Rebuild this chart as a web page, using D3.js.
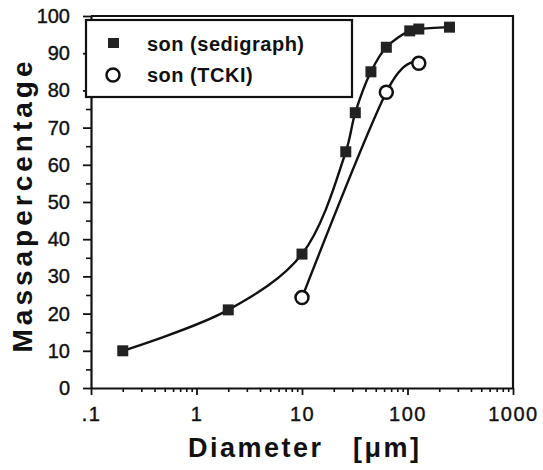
<!DOCTYPE html>
<html>
<head>
<meta charset="utf-8">
<script src="https://cdnjs.cloudflare.com/ajax/libs/d3/7.8.5/d3.min.js"></script>
<style>
    body { margin: 0; background: #fff; }
    svg { font-family: "Liberation Sans", Arial, sans-serif; }
    .axis path, .axis line { stroke: #111; }
    .axis text { fill: #111; font-size: 20px; stroke: #111; stroke-width: 0.4px; }
</style>
</head>
<body>
<svg id="chart" width="543" height="470"></svg>
<script>
    // sedigraph series (filled squares)
    var sediDiameter = [0.2, 2, 10, 26, 32, 45, 63, 105, 128, 250];
    var sediMass = [10, 21, 36, 63.5, 74, 85, 91.6, 96, 96.5, 97];

    // TCKI series (open circles)
    var tckiDiameter = [10, 63, 128];
    var tckiMass = [24.3, 79.5, 87.3];

    var xTickValues = [0.1, 1, 10, 100, 1000];
    var xTickLabels = [".1", "1", "10", "100", "1000"];
    var yTickValues = [0, 10, 20, 30, 40, 50, 60, 70, 80, 90, 100];

    var legendLabels = ["son (sedigraph)", "son (TCKI)"];

    var svg = d3.select("#chart");

    var x = d3.scaleLog()
        .domain([0.1, 1000])
        .range([91, 513]);

    var y = d3.scaleLinear()
        .domain([0, 100])
        .range([388, 16]);

    // minor ticks
    var xMinor = [];
    for (var dec = 0.1; dec < 1000; dec *= 10) {
        for (var k = 2; k <= 9; k++) xMinor.push(dec * k);
    }
    var yMinor = d3.range(5, 100, 10);

    svg.append("g")
        .attr("class", "axis")
        .attr("transform", "translate(0," + y(0) + ")")
        .call(d3.axisBottom(x).tickValues(xMinor).tickSize(4).tickSizeOuter(0).tickFormat(""))
        .call(function(g){ g.select(".domain").remove(); g.selectAll("line").attr("stroke-width", 1.6); });

    svg.append("g")
        .attr("class", "axis")
        .attr("transform", "translate(" + x(0.1) + ",0)")
        .call(d3.axisLeft(y).tickValues(yMinor).tickSize(5).tickSizeOuter(0).tickFormat(""))
        .call(function(g){ g.select(".domain").remove(); g.selectAll("line").attr("stroke-width", 1.6); });

    // x axis
    svg.append("g")
        .attr("class", "axis")
        .attr("transform", "translate(0," + y(0) + ")")
        .call(d3.axisBottom(x)
            .tickValues(xTickValues)
            .tickSize(7)
            .tickSizeOuter(0)
            .tickPadding(12)
            .tickFormat(function(d, i){ return xTickLabels[i]; }))
        .call(function(g){
            g.select(".domain").attr("stroke-width", 2.2);
            g.selectAll("line").attr("stroke-width", 1.8);
            g.selectAll("text").style("letter-spacing", "1.5px");
        });

    // y axis
    svg.append("g")
        .attr("class", "axis")
        .attr("transform", "translate(" + x(0.1) + ",0)")
        .call(d3.axisLeft(y)
            .tickValues(yTickValues)
            .tickSize(8)
            .tickSizeOuter(0)
            .tickPadding(13))
        .call(function(g){
            g.select(".domain").attr("stroke-width", 2.2);
            g.selectAll("line").attr("stroke-width", 1.8);
        });

    // frame top and right
    svg.append("path")
        .attr("d", "M" + x(0.1) + "," + y(100) + "H" + x(1000) + "V" + y(0))
        .attr("fill", "none")
        .attr("stroke", "#111")
        .attr("stroke-width", 2.2);

    // curves
    var sediData = sediDiameter.map(function(d, i){ return [d, sediMass[i]]; });
    var tckiData = tckiDiameter.map(function(d, i){ return [d, tckiMass[i]]; });

    var line = d3.line()
        .x(function(d){ return x(d[0]); })
        .y(function(d){ return y(d[1]); });

    svg.append("path")
        .datum(sediData)
        .attr("d", line.curve(d3.curveCatmullRom.alpha(0.5)))
        .attr("fill", "none")
        .attr("stroke", "#111")
        .attr("stroke-width", 2.4);

    svg.append("path")
        .datum(tckiData)
        .attr("d", line.curve(d3.curveCatmullRom.alpha(0)))
        .attr("fill", "none")
        .attr("stroke", "#111")
        .attr("stroke-width", 2.4);

    // markers
    var sq = 11;
    svg.selectAll(".sq")
        .data(sediData)
        .enter()
        .append("rect")
        .attr("class", "sq")
        .attr("x", function(d){ return x(d[0]) - sq / 2; })
        .attr("y", function(d){ return y(d[1]) - sq / 2; })
        .attr("width", sq)
        .attr("height", sq)
        .attr("fill", "#222");

    svg.selectAll(".circ")
        .data(tckiData)
        .enter()
        .append("circle")
        .attr("class", "circ")
        .attr("cx", function(d){ return x(d[0]); })
        .attr("cy", function(d){ return y(d[1]); })
        .attr("r", 6.5)
        .attr("fill", "#fff")
        .attr("stroke", "#111")
        .attr("stroke-width", 2.5);

    // legend
    var legend = svg.append("g");
    legend.append("rect")
        .attr("x", 86).attr("y", 20)
        .attr("width", 266).attr("height", 77)
        .attr("fill", "#fff")
        .attr("stroke", "#111")
        .attr("stroke-width", 2.2);
    legend.append("rect")
        .attr("x", 108).attr("y", 38)
        .attr("width", 11).attr("height", 10)
        .attr("fill", "#222");
    legend.append("circle")
        .attr("cx", 113).attr("cy", 75)
        .attr("r", 6.5)
        .attr("fill", "#fff")
        .attr("stroke", "#111")
        .attr("stroke-width", 2.5);
    legend.selectAll(".legend-label")
        .data(legendLabels)
        .enter()
        .append("text")
        .attr("class", "legend-label")
        .attr("x", 147)
        .attr("y", function(d, i){ return 51 + i * 31; })
        .style("font-size", "20px")
        .style("font-weight", "bold")
        .style("letter-spacing", "0.5px")
        .attr("fill", "#111")
        .text(function(d){ return d; });

    // axis titles
    svg.append("text")
        .attr("transform", "translate(32,205) rotate(-90)")
        .attr("text-anchor", "middle")
        .style("font-size", "28px")
        .style("font-weight", "bold")
        .style("letter-spacing", "4px")
        .attr("fill", "#111")
        .text("Massapercentage");

    var xTitle = svg.append("text")
        .attr("y", 457)
        .style("font-size", "27px")
        .style("font-weight", "bold")
        .style("letter-spacing", "2.5px")
        .attr("fill", "#111");
    xTitle.append("tspan").attr("x", 188).text("Diameter");
    xTitle.append("tspan").attr("x", 353).text("[μm]");
</script>
</body>
</html>
